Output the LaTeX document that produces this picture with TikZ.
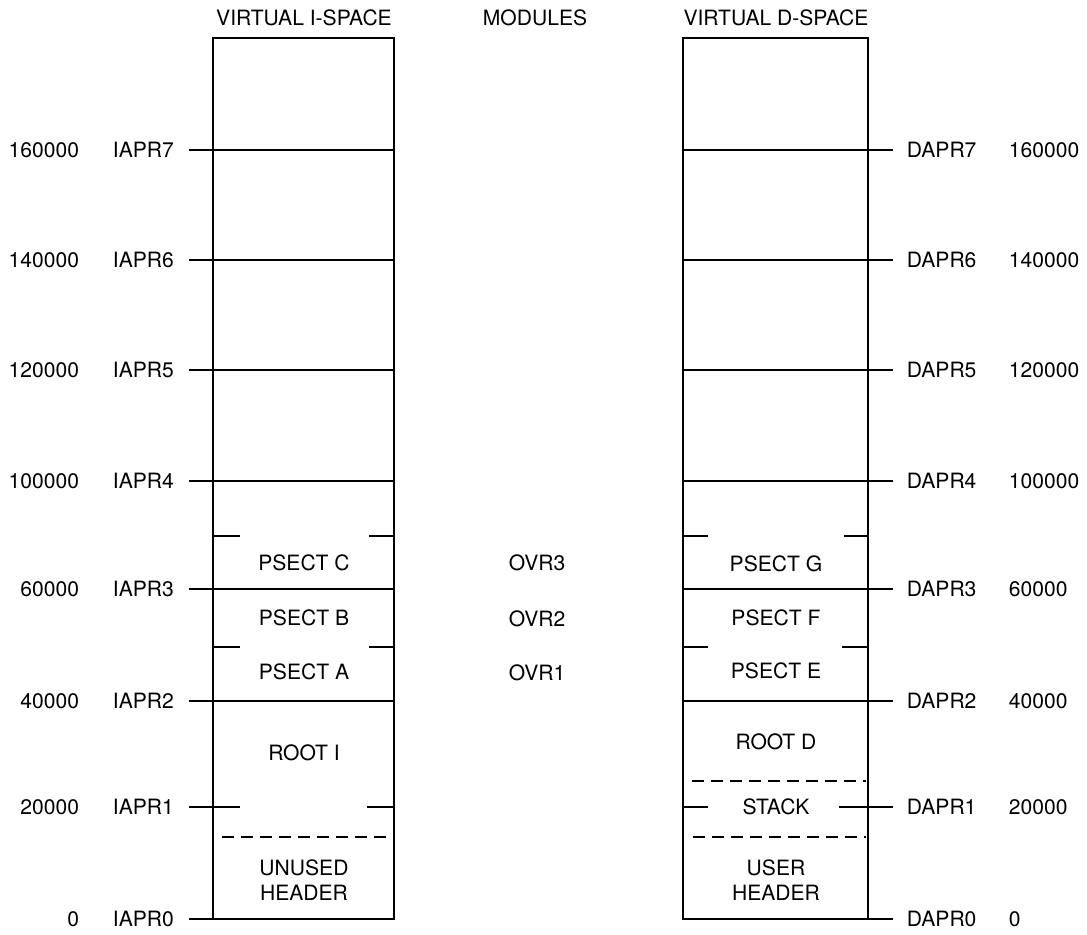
\documentclass[tikz,border=0pt]{standalone}
\usepackage{fontspec}
\setmainfont{TeX Gyre Heros}
\usetikzlibrary{positioning}
\tikzset{
  addr/.style={inner sep=0pt, anchor=east},
  aprlbl/.style={inner sep=0pt, anchor=west},
  seglbl/.style={inner sep=0pt, align=center},
  cut/.style={dash pattern=on 6.8pt off 4pt}
}

\begin{document}
\begin{tikzpicture}[x=0.02cm, y=-0.02cm, line width=1.1pt, font=\fontsize{12}{14.2}\selectfont]
          \useasboundingbox (0,0) rectangle (1087,934);
          % titles
          \node[seglbl] (ititle) at (304,18) {VIRTUAL I-SPACE};
          \node[seglbl] (mtitle) at (535,18) {MODULES};
          \node[seglbl] (dtitle) at (776,18) {VIRTUAL D-SPACE};
          % I-space
          \begin{scope}
            \draw (213,38) rectangle (394,919);
            \draw (189,150) -- (394,150);
            \draw (189,260) -- (394,260);
            \draw (189,370) -- (394,370);
            \draw (189,481) -- (394,481);
            \draw (189,589) -- (394,589);
            \draw (189,701) -- (394,701);
            \draw (189,807) -- (240,807);
            \draw (367,807) -- (394,807);
            \draw (189,919) -- (213,919);
            \draw (213,536) -- (240,536);
            \draw (369,536) -- (394,536);
            \draw (213,647) -- (240,647);
            \draw (369,647) -- (394,647);
            \draw[cut] (222,837) -- (394,837);
            \node[addr] (ia7) at (80,150) {160000};
            \node[addr] (ia6) at (80,260) {140000};
            \node[addr] (ia5) at (80,370) {120000};
            \node[addr] (ia4) at (80,481) {100000};
            \node[addr] (ia3) at (80,589) {60000};
            \node[addr] (ia2) at (80,701) {40000};
            \node[addr] (ia1) at (80,807) {20000};
            \node[addr] (ia0) at (80,919) {0};
            \node[aprlbl] (iapr7) at (112,150) {IAPR7};
            \node[aprlbl] (iapr6) at (112,260) {IAPR6};
            \node[aprlbl] (iapr5) at (112,370) {IAPR5};
            \node[aprlbl] (iapr4) at (112,481) {IAPR4};
            \node[aprlbl] (iapr3) at (112,589) {IAPR3};
            \node[aprlbl] (iapr2) at (112,701) {IAPR2};
            \node[aprlbl] (iapr1) at (112,807) {IAPR1};
            \node[aprlbl] (iapr0) at (112,919) {IAPR0};
            \node[seglbl] (psc) at (304,563) {PSECT C};
            \node[seglbl] (psb) at (304,618) {PSECT B};
            \node[seglbl] (psa) at (304,672) {PSECT A};
            \node[seglbl] (rooti) at (304,753) {ROOT I};
            \node[seglbl] (unused) at (304,880) {UNUSED\\HEADER};
          \end{scope}
          % modules
          \node[seglbl] (ovr3) at (537,563) {OVR3};
          \node[seglbl] (ovr2) at (537,619) {OVR2};
          \node[seglbl] (ovr1) at (537,673) {OVR1};
          % D-space
          \begin{scope}
            \draw (683,38) rectangle (868,919);
            \draw (683,150) -- (893,150);
            \draw (683,260) -- (893,260);
            \draw (683,370) -- (893,370);
            \draw (683,481) -- (893,481);
            \draw (683,589) -- (893,589);
            \draw (683,701) -- (893,701);
            \draw (683,807) -- (708,807);
            \draw (839,807) -- (893,807);
            \draw (868,919) -- (893,919);
            \draw (683,536) -- (708,536);
            \draw (844,536) -- (868,536);
            \draw (683,647) -- (708,647);
            \draw (842,647) -- (868,647);
            \draw[cut] (692,781) -- (866,781);
            \draw[cut] (693,837) -- (866,837);
            \node[aprlbl] (dapr7) at (906,150) {DAPR7};
            \node[aprlbl] (dapr6) at (906,260) {DAPR6};
            \node[aprlbl] (dapr5) at (906,370) {DAPR5};
            \node[aprlbl] (dapr4) at (906,481) {DAPR4};
            \node[aprlbl] (dapr3) at (906,589) {DAPR3};
            \node[aprlbl] (dapr2) at (906,701) {DAPR2};
            \node[aprlbl] (dapr1) at (906,807) {DAPR1};
            \node[aprlbl] (dapr0) at (906,919) {DAPR0};
            \node[aprlbl] (da7) at (1008,150) {160000};
            \node[aprlbl] (da6) at (1008,260) {140000};
            \node[aprlbl] (da5) at (1008,370) {120000};
            \node[aprlbl] (da4) at (1008,481) {100000};
            \node[aprlbl] (da3) at (1008,589) {60000};
            \node[aprlbl] (da2) at (1008,701) {40000};
            \node[aprlbl] (da1) at (1008,807) {20000};
            \node[aprlbl] (da0) at (1008,919) {0};
            \node[seglbl] (psg) at (776,564) {PSECT G};
            \node[seglbl] (psf) at (776,618) {PSECT F};
            \node[seglbl] (pse) at (776,671) {PSECT E};
            \node[seglbl] (rootd) at (776,742) {ROOT D};
            \node[seglbl] (stack) at (776,807) {STACK};
            \node[seglbl] (user) at (776,880) {USER\\HEADER};
          \end{scope}
        \end{tikzpicture}
\end{document}
